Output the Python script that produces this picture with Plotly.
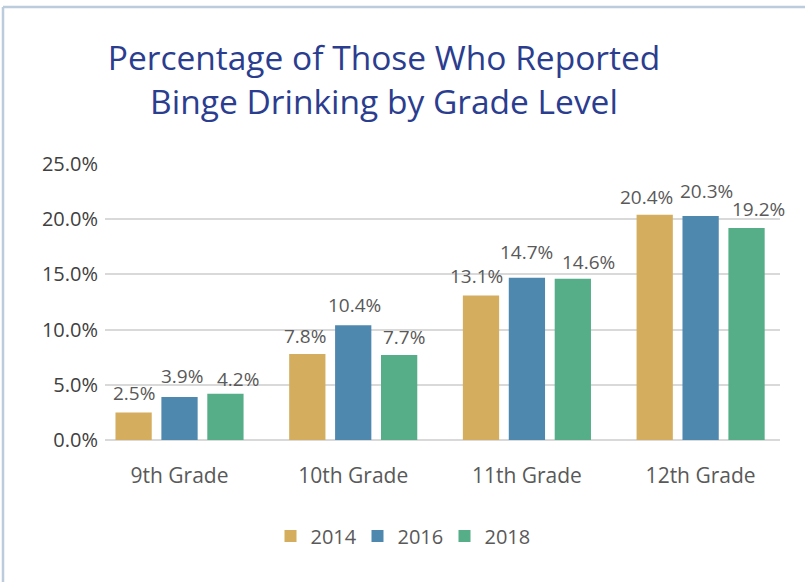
import plotly.graph_objects as go

categories = ["9th Grade", "10th Grade", "11th Grade", "12th Grade"]
years = ["2014", "2016", "2018"]
values_2014 = [2.5, 7.8, 13.1, 20.4]
values_2016 = [3.9, 10.4, 14.7, 20.3]
values_2018 = [4.2, 7.7, 14.6, 19.2]
series = [values_2014, values_2016, values_2018]
colors = ["#D4AE5E", "#4F88AF", "#55AE87"]
y_ticks = [0, 5, 10, 15, 20, 25]
y_tick_labels = ["0.0%", "5.0%", "10.0%", "15.0%", "20.0%", "25.0%"]

# label nudges (pixels) as placed in the original chart
label_dx = [[0, -2, -5, -8], [2, 1, 0, 6], [13, 5, 16, 12]]
label_dy = [[0, -1, 0, -1], [2, 1, 7, 6], [-4, -1, -2, 0]]

W, H = 805, 582
plot_left, plot_right, plot_top, plot_bottom = 105, 780, 164, 440
L, T = plot_left, plot_top
R, B = W - plot_right, H - plot_bottom
pw, ph = W - L - R, H - T - B
x_range = [-0.429, 3.457]
bargap, bargroupgap = 0.207, 0.21


def px_x(sx):
    return (sx - L) / pw


def px_y(sy):
    return (T + ph - sy) / ph


fig = go.Figure()
for name, vals, col in zip(years, series, colors):
    fig.add_trace(go.Bar(
        x=categories, y=vals, name=name,
        marker=dict(color=col, line=dict(width=0)),
        hovertemplate="%{x}: %{y:.1f}%<extra>" + name + "</extra>",
    ))

# data labels above each bar
cat_px = pw / (x_range[1] - x_range[0])
slot_px = cat_px * (1 - bargap) / len(series)
for i, vals in enumerate(series):
    center_shift = (i - (len(series) - 1) / 2) * slot_px
    for j, (cat, v) in enumerate(zip(categories, vals)):
        fig.add_annotation(
            x=cat, y=v, xref="x", yref="y", text=f"{v:.1f}%",
            showarrow=False, xanchor="center", yanchor="bottom",
            xshift=center_shift + label_dx[i][j], yshift=4 + label_dy[i][j],
            font=dict(family="Open Sans", size=19, color="#595959"),
        )

fig.update_layout(
    width=W, height=H,
    margin=dict(l=L, r=R, t=T, b=B),
    paper_bgcolor="white", plot_bgcolor="white",
    barmode="group", bargap=bargap, bargroupgap=bargroupgap,
    title=dict(
        text="Percentage of Those Who Reported<br>Binge Drinking by Grade Level",
        x=384 / W, xref="container", xanchor="center",
        y=1 - 70 / H, yref="container", yanchor="middle",
        font=dict(family="Open Sans", size=33.5, color="#2B3D8F"),
    ),
    legend=dict(
        orientation="h", x=px_x(401), xanchor="center",
        y=px_y(536), yanchor="middle",
        font=dict(family="Open Sans", size=20, color="#595959"),
        itemwidth=30, tracegroupgap=0, entrywidth=42,
    ),
    showlegend=True,
)
fig.update_xaxes(
    range=x_range, showgrid=False, showline=False, zeroline=False,
    tickfont=dict(family="Open Sans", size=21, color="#595959"),
    ticks="", ticklabelstandoff=21,
)
fig.update_yaxes(
    range=[0, 25], tickvals=y_ticks, ticktext=y_tick_labels,
    showgrid=True, gridcolor="#D9D9D9", gridwidth=1.5,
    zeroline=True, zerolinecolor="#D9D9D9", zerolinewidth=1.5,
    showline=False, ticks="", ticklabelstandoff=6,
    tickfont=dict(family="Open Sans", size=20, color="#404040"),
)

# outer frame (top and left borders)
fig.add_shape(type="line", xref="paper", yref="paper",
              x0=px_x(3), x1=px_x(W + 20), y0=px_y(7), y1=px_y(7),
              line=dict(color="#BCCCDC", width=2.5))
fig.add_shape(type="line", xref="paper", yref="paper",
              x0=px_x(3), x1=px_x(3), y0=px_y(7), y1=px_y(H + 20),
              line=dict(color="#BCCCDC", width=2.5))

fig.write_html("out.html", config={"displayModeBar": False},
               post_script="document.body.style.margin='0';")
